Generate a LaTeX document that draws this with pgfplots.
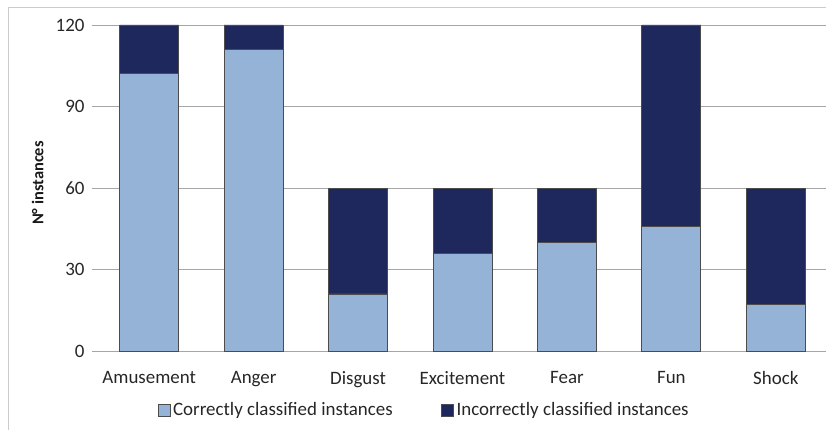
\documentclass[border=0pt]{standalone}
\usepackage{pgfplots}
\pgfplotsset{compat=1.18}
\usepackage{fontspec}
\setmainfont{Carlito}
\definecolor{lightbar}{HTML}{95B3D7}
\definecolor{darkbar}{HTML}{1F285C}
\definecolor{gridc}{HTML}{A6A6A6}
\begin{document}
\begin{tikzpicture}[x=1bp,y=1bp]
\useasboundingbox (0,0) rectangle (826,430);
\draw[gray!40, line width=1bp] (8,0) -- (8,422) -- (826,422);
\begin{axis}[
  at={(97bp,79bp)}, anchor=south west,
  scale only axis, width=731bp, height=326bp,
  xmin=-0.5, xmax=6.5, ymin=0, ymax=120,
  ybar stacked, bar width=0.565,
  axis x line*=bottom, axis y line*=left,
  x axis line style={draw=gridc, line width=0.9bp, -},
  y axis line style={draw=none, -},
  xtick={0,...,6},
  xticklabels={Amusement,Anger,Disgust,Excitement,Fear,Fun,Shock},
  x tick style={draw=none},
  extra x ticks={-0.5,0.5,1.5,2.5,3.5,4.5,5.5,6.5},
  extra x tick labels={},
  extra x tick style={tick align=outside, major tick length=7bp,
     tick style={draw=gridc, line width=0.9bp}},
  ytick={0,30,60,90,120},
  y tick style={draw=gridc, line width=0.9bp},
  tick align=outside, major tick length=5bp,
  ymajorgrids, grid style={draw=gridc, line width=0.9bp},
  /pgf/number format/assume math mode=true,
  tick label style={font=\fontsize{19}{22}\selectfont, text=black!85},
  xticklabel style={yshift=-12bp},
  yticklabel style={xshift=-4bp},
  ylabel={N° instances},
  ylabel style={at={(axis description cs:-0.0813,0.515)}, anchor=center,
     font=\bfseries\fontsize{16.5}{20}\selectfont, text=black!90},
  legend style={at={(axis description cs:0.448,-0.181)}, anchor=center,
     draw=none, fill=none, legend columns=2,
     font=\fontsize{19}{22}\selectfont, text=black!85,
     nodes={inner xsep=2.5bp},
     /tikz/every even column/.append style={column sep=46bp}},
  legend image code/.code={\draw[#1] (0bp,-6bp) rectangle (12bp,6bp);},
]
\addplot[fill=lightbar, draw=black!70, line width=0.8bp]
  coordinates {(0,102) (1,111) (2,21) (3,36) (4,40) (5,46) (6,17)};
\addplot[fill=darkbar, draw=black!70, line width=0.8bp]
  coordinates {(0,18) (1,9) (2,39) (3,24) (4,20) (5,74) (6,43)};
\legend{Correctly classified instances, Incorrectly classified instances}
\end{axis}
\end{tikzpicture}
\end{document}
